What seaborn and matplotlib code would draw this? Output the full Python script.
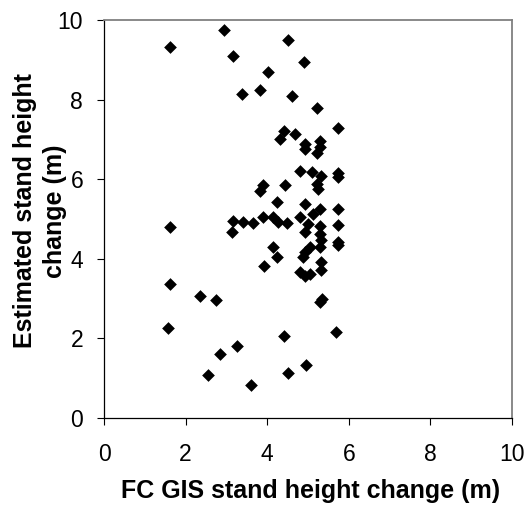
import numpy as np
import pandas as pd
import matplotlib
matplotlib.use("Agg")
import matplotlib.pyplot as plt
import seaborn as sns

# =========================
# Data
# =========================
fc_gis_change = [
    2.94, 1.62, 4.51, 3.15, 4.91, 4.03, 3.39, 3.83, 4.62, 5.21,
    5.74, 4.40, 4.68, 4.31, 5.29, 4.93, 5.29, 4.93, 5.21,
    4.80, 5.09, 5.33, 5.74, 5.74,
    3.90, 3.83, 4.44, 5.21, 5.25,
    4.23, 4.93, 5.29, 5.74, 5.13,
    3.90, 4.15, 4.80, 4.27, 4.48, 5.00, 5.29, 5.74,
    3.17, 3.40, 3.64, 1.62, 3.13,
    4.93, 5.29, 5.33, 5.74, 5.74, 5.05, 4.13, 5.29, 4.93, 4.88, 4.23,
    5.33, 3.92, 4.80, 5.05, 5.33, 4.93,
    5.29, 5.34, 1.62, 2.36, 2.75, 1.58, 5.69, 4.41, 3.25, 2.84,
    4.96, 2.55, 4.51, 3.60,
]
estimated_change = [
    9.75, 9.31, 9.50, 9.10, 8.94, 8.70, 8.15, 8.25, 8.10, 7.79,
    7.29, 7.21, 7.13, 7.00, 6.96, 6.88, 6.80, 6.75, 6.67,
    6.21, 6.17, 6.08, 6.15, 6.05,
    5.85, 5.71, 5.86, 5.88, 5.75,
    5.42, 5.38, 5.25, 5.25, 5.13,
    5.04, 5.04, 5.04, 4.92, 4.89, 4.87, 4.83, 4.86,
    4.96, 4.92, 4.90, 4.79, 4.67,
    4.67, 4.63, 4.46, 4.42, 4.35, 4.29, 4.29, 4.29, 4.17, 4.04, 4.04,
    3.92, 3.81, 3.67, 3.63, 3.71, 3.58,
    2.92, 3.00, 3.36, 3.07, 2.96, 2.27, 2.17, 2.06, 1.81, 1.61,
    1.33, 1.07, 1.13, 0.82,
]
ticks = [0, 2, 4, 6, 8, 10]

df = pd.DataFrame({'fc': fc_gis_change, 'est': estimated_change})

# =========================
# Plot
# =========================
sns.set_style('white')
plt.rcParams['font.family'] = ['Liberation Sans', 'DejaVu Sans']
plt.rcParams['text.color'] = 'black'
plt.rcParams['axes.labelcolor'] = 'black'
plt.rcParams['xtick.color'] = 'black'
plt.rcParams['ytick.color'] = 'black'

fig = plt.figure(figsize=(5.32, 5.08), dpi=100)
ax = fig.add_axes([0.1955, 0.1772, 0.7669, 0.7834])

sns.scatterplot(data=df, x='fc', y='est', marker='D', color='black',
                s=42, linewidth=0, ax=ax, legend=False)

ax.set_xlim(0, 10)
ax.set_ylim(0, 10)
ax.set_xticks(ticks)
ax.set_yticks(ticks)
ax.set_xticklabels([str(t) for t in ticks])
ax.set_yticklabels([str(t) for t in ticks])

ax.tick_params(axis='both', direction='out', length=5, width=0.8,
               color='black', labelcolor='black', labelsize=16.5,
               bottom=True, left=True)
ax.tick_params(axis='x', pad=13)
ax.tick_params(axis='y', pad=10)

for side in ['left', 'bottom']:
    ax.spines[side].set_color('black')
    ax.spines[side].set_linewidth(0.9)
for side in ['top', 'right']:
    ax.spines[side].set_color('#808080')
    ax.spines[side].set_linewidth(1.3)

ax.set_xlabel('FC GIS stand height change (m)', fontsize=18,
              fontweight='bold', va='baseline', color='black')
ax.xaxis.set_label_coords(0.506, -0.2)

ax.set_ylabel('Estimated stand height\nchange (m)', fontsize=18,
              fontweight='bold', va='center', linespacing=1.3, color='black')
ax.yaxis.set_label_coords(-0.157, 0.52)

plt.savefig('out.png', dpi=100)
